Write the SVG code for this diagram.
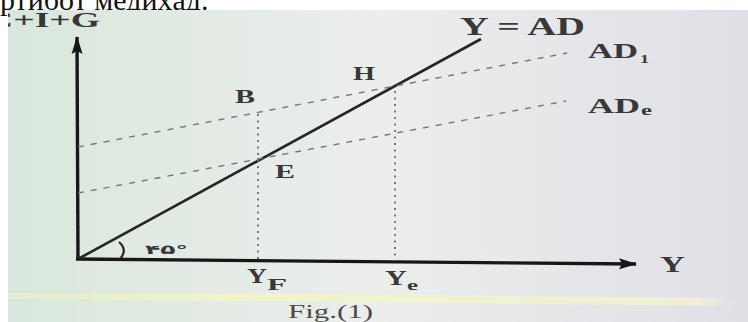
<svg xmlns="http://www.w3.org/2000/svg" width="748" height="322" viewBox="0 0 748 322">
<defs>
<linearGradient id="bg" x1="0" y1="0" x2="1" y2="0">
<stop offset="0" stop-color="#d9e7dc"/>
<stop offset="0.5" stop-color="#eceeec"/>
<stop offset="1" stop-color="#dfdfe6"/>
</linearGradient>
<linearGradient id="glow" x1="0" y1="0" x2="1" y2="0">
<stop offset="0" stop-color="#eef3c4" stop-opacity="0.5"/>
<stop offset="0.3" stop-color="#f2f5c8" stop-opacity="0.95"/>
<stop offset="0.95" stop-color="#f3f0d8" stop-opacity="0.9"/>
<stop offset="1" stop-color="#f3f0d8" stop-opacity="0"/>
</linearGradient>
<clipPath id="photo"><rect x="8" y="10" width="740" height="312"/></clipPath>
<marker id="arr" viewBox="0 0 18 12" refX="17" refY="6" markerWidth="18" markerHeight="12" orient="auto" markerUnits="userSpaceOnUse">
<path d="M0,0.5 L18,6 L0,11.5 L3,6 Z" fill="#161616"/>
</marker>
<style>
.lbl{font-family:"Liberation Serif","Times New Roman",serif;fill:#383838;font-weight:bold}
.fig{font-family:"Liberation Serif","Times New Roman",serif;fill:#4a4a4a;font-weight:normal}
.axis{stroke:#171717;stroke-width:3.4;fill:none}
.dash{stroke:#767676;stroke-width:1.4;stroke-dasharray:6 7;fill:none}
.dot{stroke:#6e6e6e;stroke-width:1.8;stroke-dasharray:2 4.5;fill:none}
</style>
</defs>
<rect width="748" height="322" fill="#ffffff"/>
<text x="0" y="10" font-family="Liberation Serif, serif" font-size="30" fill="#111">ртибот медиҳад.</text>
<g clip-path="url(#photo)">
<rect x="8" y="10" width="740" height="312" fill="url(#bg)"/>
<path d="M8,293 L300,294 L735,298 L735,306 L300,301 L8,299 Z" fill="url(#glow)"/>
<text class="lbl" x="-14" y="27" font-size="20" textLength="114" lengthAdjust="spacingAndGlyphs">C+I+G</text>
</g>
<g id="connectors">
<line class="axis" x1="78" y1="260" x2="77" y2="37" marker-end="url(#arr)"/>
<line class="axis" x1="76" y1="259" x2="636" y2="264" marker-end="url(#arr)"/>
<line x1="78" y1="259" x2="481" y2="39" stroke="#262626" stroke-width="2.6"/>
<line class="dash" x1="78" y1="147" x2="567" y2="53"/>
<line class="dash" x1="78" y1="193" x2="566" y2="101"/>
<line class="dot" x1="258" y1="114" x2="258" y2="260"/>
<line class="dot" x1="395" y1="91" x2="395" y2="261"/>
<path d="M119,242 Q128,250 120,259" stroke="#262626" stroke-width="2.2" fill="none"/>
</g>
<g id="labels">
<text class="lbl" x="460" y="35" font-size="25" textLength="125" lengthAdjust="spacingAndGlyphs">Y = AD</text>
<text class="lbl" x="588" y="58" font-size="22" textLength="50" lengthAdjust="spacingAndGlyphs">AD</text>
<text class="lbl" x="640" y="63" font-size="13" textLength="9" lengthAdjust="spacingAndGlyphs">1</text>
<text class="lbl" x="588" y="113" font-size="22" textLength="52" lengthAdjust="spacingAndGlyphs">AD</text>
<text class="lbl" x="641" y="115" font-size="15" textLength="11" lengthAdjust="spacingAndGlyphs">e</text>
<text class="lbl" x="235" y="103" font-size="18" textLength="20" lengthAdjust="spacingAndGlyphs">B</text>
<text class="lbl" x="353" y="80" font-size="18" textLength="22" lengthAdjust="spacingAndGlyphs">H</text>
<text class="lbl" x="275" y="178" font-size="18" textLength="20" lengthAdjust="spacingAndGlyphs">E</text>
<text class="lbl" x="247" y="283" font-size="20" textLength="20" lengthAdjust="spacingAndGlyphs">Y</text>
<text class="lbl" x="267" y="290" font-size="16" textLength="20" lengthAdjust="spacingAndGlyphs">F</text>
<text class="lbl" x="385" y="285" font-size="20" textLength="22" lengthAdjust="spacingAndGlyphs">Y</text>
<text class="lbl" x="407" y="290" font-size="15" textLength="11" lengthAdjust="spacingAndGlyphs">e</text>
<text class="lbl" x="660" y="272" font-size="23" textLength="25" lengthAdjust="spacingAndGlyphs">Y</text>
<text class="fig" x="288" y="318" font-size="18" textLength="85" lengthAdjust="spacingAndGlyphs">Fig.(1)</text>
<text x="145" y="254" font-family="DejaVu Sans, sans-serif" font-size="13" font-weight="bold" fill="#383838" textLength="43" lengthAdjust="spacingAndGlyphs">۴۵°</text>
</g>
</svg>
